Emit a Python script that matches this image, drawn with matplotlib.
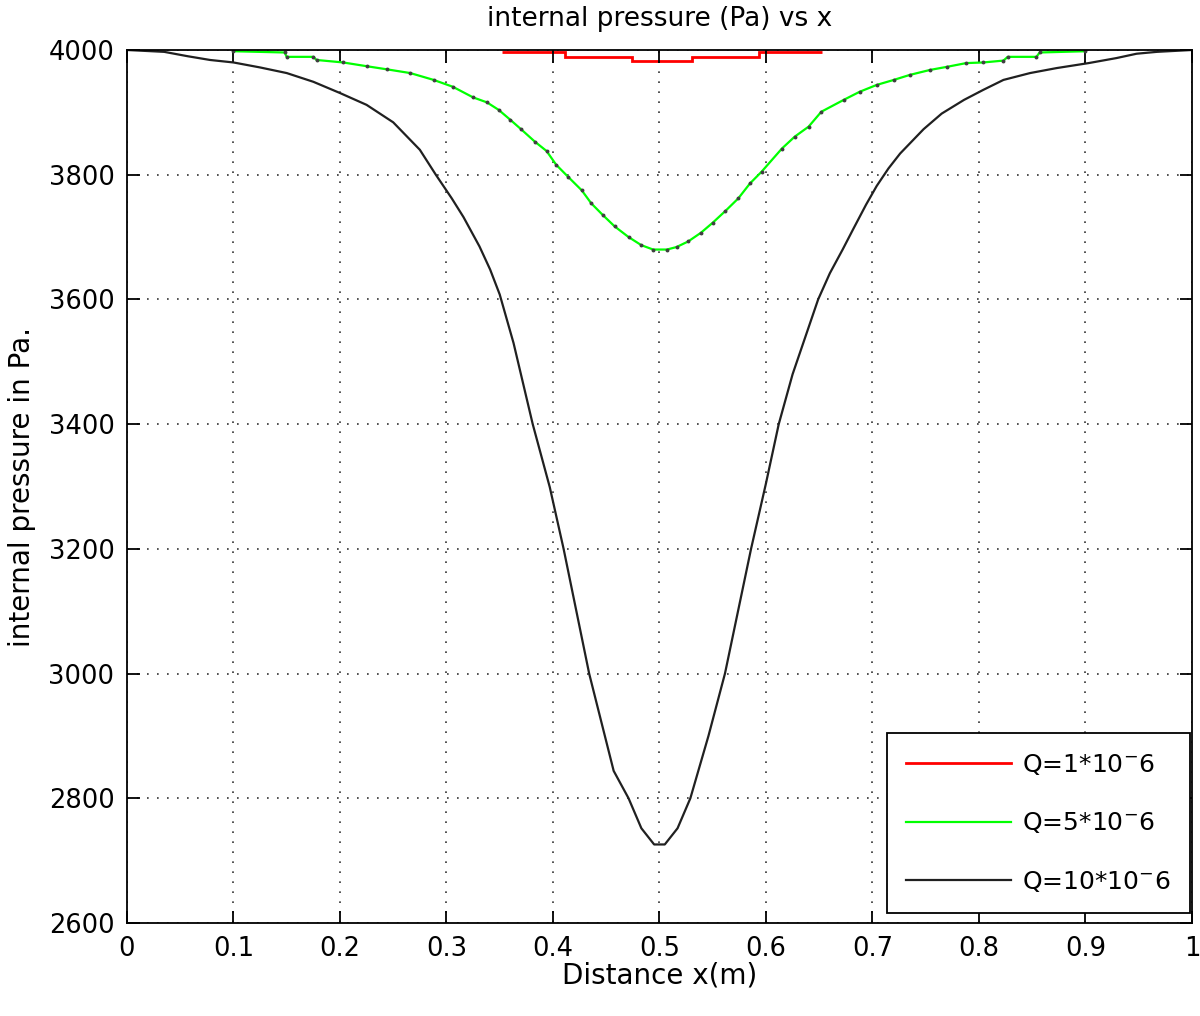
import numpy as np
import matplotlib
matplotlib.use("Agg")
import matplotlib.pyplot as plt

# Q = 1e-6 : staircase just under 4000
red_edges = [0.352, 0.411, 0.474, 0.531, 0.593, 0.653]
red_vals = [3997, 3989, 3983, 3989, 3997]

# Q = 5e-6
green_x = [0.10, 0.148, 0.15, 0.175, 0.178, 0.203, 0.225, 0.244, 0.266, 0.288,
           0.306, 0.325, 0.338, 0.349, 0.360, 0.370, 0.383, 0.394, 0.403, 0.414,
           0.427, 0.436, 0.447, 0.458, 0.471, 0.483, 0.494, 0.507, 0.516, 0.527,
           0.539, 0.550, 0.562, 0.574, 0.585, 0.596, 0.615, 0.627, 0.640, 0.652,
           0.673, 0.688, 0.704, 0.720, 0.735, 0.754, 0.770, 0.788, 0.804, 0.823,
           0.827, 0.854, 0.857, 0.90]
green_y = [3998, 3996, 3989, 3989, 3984, 3980, 3974, 3969, 3963, 3952,
           3941, 3924, 3916, 3904, 3888, 3873, 3853, 3838, 3816, 3797,
           3775, 3754, 3735, 3717, 3700, 3687, 3680, 3680, 3684, 3693,
           3707, 3723, 3742, 3762, 3786, 3805, 3842, 3861, 3877, 3901,
           3920, 3933, 3944, 3952, 3960, 3968, 3973, 3979, 3980, 3983,
           3989, 3989, 3996, 3998]

# Q = 10e-6
black_x = [0.0, 0.035, 0.057, 0.078, 0.10, 0.125, 0.15, 0.175, 0.20, 0.225,
           0.25, 0.275, 0.29, 0.305, 0.316, 0.331, 0.341, 0.35, 0.363, 0.381,
           0.397, 0.41, 0.434, 0.457, 0.471, 0.483, 0.495, 0.505, 0.517, 0.529,
           0.546, 0.5615, 0.586, 0.60, 0.612, 0.625, 0.649, 0.66, 0.672, 0.682,
           0.694, 0.704, 0.715, 0.726, 0.748, 0.765, 0.786, 0.804, 0.823, 0.848,
           0.873, 0.903, 0.929, 0.948, 0.967, 1.0]
black_y = [4000, 3997, 3990, 3984, 3980, 3972, 3963, 3949, 3931, 3912,
           3884, 3840, 3800, 3762, 3732, 3685, 3648, 3608, 3530, 3400,
           3299, 3200, 3000, 2844, 2800, 2752, 2726, 2726, 2752, 2800,
           2900, 3000, 3200, 3305, 3400, 3480, 3600, 3642, 3680, 3713,
           3752, 3782, 3810, 3834, 3873, 3898, 3920, 3936, 3952, 3963,
           3971, 3979, 3987, 3994, 3997, 4000]

labels = [r'Q=1*10$^{-}$6', r'Q=5*10$^{-}$6', r'Q=10*10$^{-}$6']

plt.rcParams['font.family'] = 'DejaVu Sans'
fig = plt.figure(figsize=(12, 10.16), dpi=100)
ax = fig.add_axes([0.1058, 0.0915, 0.8875, 0.8593])

ax.stairs(red_vals, red_edges, baseline=None, color='#ff0000', linewidth=2, label=labels[0])
ax.plot(green_x, green_y, color='#00ff00', linewidth=1.6, label=labels[1])
ax.plot(green_x, green_y, linestyle='none', marker='o', markersize=1.8,
        color='#404040')
ax.plot(black_x, black_y, color='#202020', linewidth=1.6, label=labels[2])

ax.set_xlim(0, 1)
ax.set_ylim(2600, 4000)
ax.set_xticks(np.arange(0, 1.01, 0.1))
ax.set_xticklabels(['0', '0.1', '0.2', '0.3', '0.4', '0.5', '0.6', '0.7', '0.8', '0.9', '1'])
ax.set_yticks(np.arange(2600, 4001, 200))
ax.tick_params(direction='in', top=True, right=True, length=9, width=1.3, labelsize=18.5, pad=9)
ax.grid(True, color='#333333', linestyle=(0, (1, 5)), linewidth=1.2)
for s in ax.spines.values():
    s.set_linewidth(1.3)

ax.set_title('internal pressure (Pa) vs x', fontsize=19, pad=17)
ax.set_xlabel('Distance x(m)', fontsize=20, labelpad=0)
ax.set_ylabel('internal pressure in Pa.', fontsize=20, labelpad=9)

leg = ax.legend(loc='lower right', bbox_to_anchor=(0.998, 0.0115), fontsize=18,
                fancybox=False, framealpha=1, edgecolor='black', borderaxespad=0,
                handlelength=4.2, handletextpad=0.45, labelspacing=1.35, borderpad=0.75)
leg.get_frame().set_linewidth(1.3)

fig.savefig('out.png', dpi=100)
